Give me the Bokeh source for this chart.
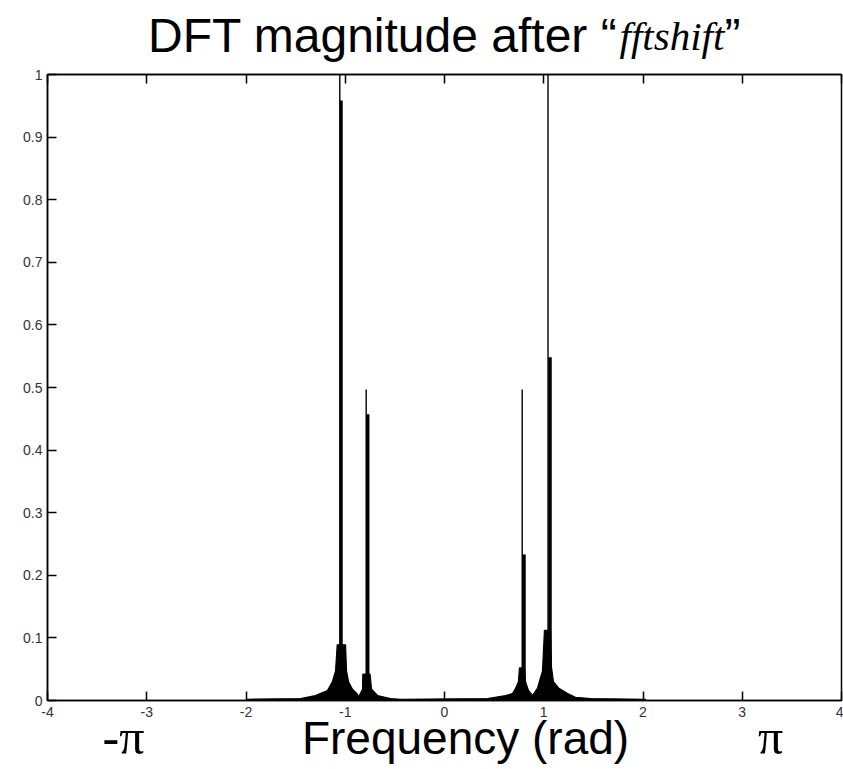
from bokeh.plotting import figure
from bokeh.layouts import column
from bokeh.models import Range1d, LinearAxis, FixedTicker, ColumnDataSource, CustomJSTickFormatter
from bokeh.core.properties import value
from bokeh.embed import file_html
from bokeh.resources import INLINE

# ---- data ----
x_ticks = [-4, -3, -2, -1, 0, 1, 2, 3, 4]
x_tick_labels = ["-4", "-3", "-2", "-1", "0", "1", "2", "3", "4"]
y_ticks = [0, 0.1, 0.2, 0.3, 0.4, 0.5, 0.6, 0.7, 0.8, 0.9, 1.0]
y_tick_labels = ["0", "0.1", "0.2", "0.3", "0.4", "0.5", "0.6", "0.7", "0.8", "0.9", "1"]

# bottom annotation texts and where they sit along the frequency axis
caption_pos = [0.212]
caption_text = ["Frequency (rad)"]
pi_pos = [-3.234, 3.285]
pi_text = ["-\u03c0", "\u03c0"]

# leakage envelope (dense samples appear as a filled black area)
env_freq = [-2.0, -1.45, -1.30, -1.18, -1.13, -1.098, -1.081, -0.997, -0.987, -0.967,
            -0.927, -0.877, -0.867, -0.826, -0.823, -0.75, -0.735, -0.675, -0.544, -0.443,
            0.433, 0.615, 0.685, 0.715, 0.745, 0.755, 0.806, 0.816, 0.846, 0.887,
            0.937, 0.987, 1.007, 1.068, 1.078, 1.098, 1.149, 1.24, 1.32, 1.47, 2.03]
env_mag = [0.002, 0.003, 0.008, 0.016, 0.03, 0.047, 0.089, 0.089, 0.047, 0.03,
           0.018, 0.01, 0.005, 0.018, 0.042, 0.042, 0.018, 0.008, 0.003, 0.002,
           0.003, 0.008, 0.011, 0.019, 0.03, 0.052, 0.052, 0.03, 0.016, 0.008,
           0.02, 0.047, 0.112, 0.112, 0.053, 0.03, 0.02, 0.011, 0.005, 0.003, 0.002]

# spectral peaks: highest sample (thin) and its neighbour (thick)
peak_freq = [-1.055, -0.789, 0.783, 1.043]
peak_mag = [1.0, 0.497, 0.497, 1.0]
next_left = [-1.053, -0.786, 0.786, 1.048]
next_right = [-1.028, -0.759, 0.816, 1.078]
next_mag = [0.958, 0.457, 0.233, 0.548]

W = 843
FL, FR = 47, 841  # page x of the plot frame (frames are aligned in the column)
sans = "Liberation Sans"
serif = "Liberation Serif"
SHIFT = 15  # compensation for the text baseline offset of the renderer

# ---- title strip ----
TH = 64
t = figure(width=W, height=TH, output_backend="svg", toolbar_location=None,
           x_range=Range1d(FL, FR), y_range=Range1d(TH, 0),
           min_border_left=FL, min_border_right=W - FR, min_border_top=0, min_border_bottom=0)
t.axis.visible = False
t.grid.visible = False
t.outline_line_color = None
ty = 50 - SHIFT
t.text(x=[617], y=[ty], text=["DFT magnitude after \u201c"], text_align="right",
       text_baseline="alphabetic", text_font=value(sans), text_font_size="48px", text_color="black")
t.text(x=[619], y=[ty], text=["fftshift"], text_align="left",
       text_baseline="alphabetic", text_font=value(serif), text_font_style="italic",
       text_font_size="41px", text_color="black")
t.text(x=[724], y=[ty], text=["\u201d"], text_align="left",
       text_baseline="alphabetic", text_font=value(sans), text_font_size="48px", text_color="black")

# ---- main plot ----
MH = 769 - TH
p = figure(width=W, height=MH, output_backend="svg", toolbar_location=None,
           x_range=Range1d(-4, 4), y_range=Range1d(0, 1),
           min_border_left=FL, min_border_right=W - FR, min_border_top=10, min_border_bottom=69)
p.background_fill_color = "white"
p.border_fill_color = "white"
p.xgrid.visible = False
p.ygrid.visible = False
p.outline_line_color = "black"
p.outline_line_width = 1.5

env_src = ColumnDataSource(dict(x=env_freq, y=env_mag))
p.varea(x="x", y1=0, y2="y", source=env_src, fill_color="black")
p.line(x="x", y="y", source=env_src, line_color="black", line_width=1.2)

p.segment(x0=peak_freq, y0=[0] * len(peak_freq), x1=peak_freq, y1=peak_mag,
          line_color="black", line_width=1.4)
p.quad(left=next_left, right=next_right, bottom=[0] * len(next_mag), top=next_mag,
       fill_color="black", line_color="black", line_width=0.5)

for ax in (p.xaxis[0], p.yaxis[0]):
    ax.axis_line_color = "black"
    ax.axis_line_width = 1.5
    ax.major_tick_in = 9
    ax.major_tick_out = 0
    ax.major_tick_line_color = "black"
    ax.major_tick_line_width = 1.5
    ax.minor_tick_line_color = None
    ax.major_label_text_font = sans
    ax.major_label_text_font_size = "14px"
    ax.major_label_text_color = "#333333"

p.xaxis[0].ticker = FixedTicker(ticks=x_ticks)
p.xaxis[0].major_label_overrides = {tk: lb for tk, lb in zip(x_ticks, x_tick_labels)}
p.xaxis[0].major_label_standoff = 6
p.yaxis[0].ticker = FixedTicker(ticks=y_ticks)
p.yaxis[0].major_label_overrides = {tk: lb for tk, lb in zip(y_ticks, y_tick_labels)}
p.yaxis[0].major_label_standoff = 5

top_axis = LinearAxis(ticker=FixedTicker(ticks=x_ticks),
                      formatter=CustomJSTickFormatter(code="return ''"),
                      major_label_text_font_size="1px", major_label_standoff=0,
                      major_tick_in=9, major_tick_out=0, major_tick_line_width=1.5,
                      axis_line_width=1.5, minor_tick_line_color=None)
p.add_layout(top_axis, "above")

# caption row: "Frequency (rad)" (sans) and the +-pi marks (serif), as extra axes' labels
cap_axis = LinearAxis(ticker=FixedTicker(ticks=caption_pos),
                      major_label_overrides={k: v for k, v in zip(caption_pos, caption_text)},
                      axis_line_color=None, major_tick_line_color=None, minor_tick_line_color=None,
                      major_tick_in=0, major_tick_out=0,
                      major_label_text_font=sans, major_label_text_font_size="46px",
                      major_label_text_color="black", major_label_standoff=-8)
p.add_layout(cap_axis, "below")
pi_axis = LinearAxis(ticker=FixedTicker(ticks=pi_pos),
                     major_label_overrides={k: v for k, v in zip(pi_pos, pi_text)},
                     axis_line_color=None, major_tick_line_color=None, minor_tick_line_color=None,
                     major_tick_in=0, major_tick_out=0,
                     major_label_text_font=serif, major_label_text_font_size="50px",
                     major_label_text_color="black", major_label_standoff=-58)
p.add_layout(pi_axis, "below")

layout = column(t, p, spacing=0)
open("out.html", "w").write(file_html(layout, INLINE))
